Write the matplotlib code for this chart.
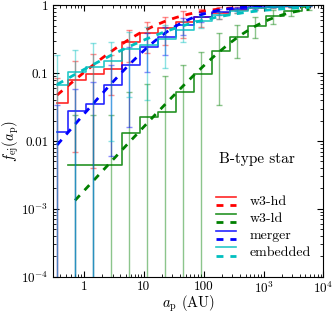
import numpy as np
import matplotlib
matplotlib.use("Agg")
import matplotlib.pyplot as plt
from matplotlib.legend_handler import HandlerBase
from matplotlib.lines import Line2D
from matplotlib.ticker import FuncFormatter

plt.rcParams['font.family'] = ['cmr10', 'DejaVu Serif']
plt.rcParams['mathtext.fontset'] = 'cm'
plt.rcParams['axes.formatter.use_mathtext'] = True

# semi-major axis bin centres (AU)
a_p = [0.354, 0.707, 1.414, 2.83, 5.66, 11.3, 22.6, 45.3, 90.5, 181, 362, 724, 1448, 2896, 5793]

hd_val = [0.036, 0.079, 0.098, 0.115, 0.29, 0.387, 0.468, 0.574, 0.68, 0.78, 0.86, 0.92, 0.96, 0.98, 0.99]
hd_err = [0.05, 0.072, 0.094, 0.068, 0.145, 0.19, 0.21, 0.24, 0.2, 0.15, 0.1, 0.07, 0.05, 0.03, 0.02]

ld_val = [np.nan, 0.0044, 0.0044, 0.0044, 0.0133, 0.0223, 0.0265, 0.053, 0.097, 0.214, 0.337, 0.50, 0.695, 0.824, 0.934]
ld_err = [0, 0.0196, 0.0196, 0.0196, 0.039, 0.048, 0.065, 0.079, 0.106, 0.18, 0.17, 0.166, 0.16, 0.12, 0.07]

mg_val = [0.0137, 0.0277, 0.0347, 0.068, 0.130, 0.245, 0.337, 0.51, 0.68, 0.80, 0.88, 0.93, 0.96, 0.98, 1.0]
mg_err = [0.02, 0.03, 0.04, 0.062, 0.114, 0.14, 0.15, 0.15, 0.12, 0.09, 0.06, 0.04, 0.03, 0.02, 0.01]

em_val = [0.067, 0.103, 0.123, 0.15, 0.224, 0.26, 0.32, 0.44, 0.58, 0.72, 0.83, 0.90, 0.95, 0.98, 0.99]
em_err = [0.118, 0.116, 0.152, 0.14, 0.18, 0.22, 0.2, 0.15, 0.12, 0.09, 0.06, 0.04, 0.03, 0.02, 0.01]

# fit parameters f = 1 / (1 + (a0/a)^beta)
fit_a0 = {'hd': 15.0, 'ld': 750.0, 'mg': 35.0, 'em': 45.0}
fit_beta = {'hd': 0.8, 'ld': 0.95, 'mg': 1.03, 'em': 0.54}
fit_start = {'hd': 0.354, 'ld': 0.707, 'mg': 0.354, 'em': 0.354}

labels = ['w3-hd', 'w3-ld', 'merger', 'embedded']
keys = ['hd', 'ld', 'mg', 'em']
colors = ['r', 'g', 'b', 'c']
vals = [hd_val, ld_val, mg_val, em_val]
errs = [hd_err, ld_err, mg_err, em_err]

fig = plt.figure(figsize=(3.32, 3.13), dpi=100)
ax = fig.add_axes([0.159, 0.116, 0.815, 0.867])

x = np.array(a_p)
for key, col, v, e in zip(keys, colors, vals, errs):
    v = np.array(v, dtype=float)
    e = np.array(e, dtype=float)
    ax.errorbar(x, v, yerr=e, fmt='none', ecolor=col, alpha=0.45, capsize=2.5, elinewidth=1, capthick=1)
    ax.plot(x, v, drawstyle='steps-mid', color=col, lw=1.2, alpha=0.85)
    xf = np.logspace(np.log10(fit_start[key]), np.log10(5793), 200)
    yf = 1.0 / (1.0 + (fit_a0[key] / xf) ** fit_beta[key])
    ax.plot(xf, yf, color=col, lw=2, ls=(0, (2.5, 2.5)))

ax.set_xscale('log')
ax.set_yscale('log')
ax.set_xlim(0.3, 1e4)
ax.set_ylim(1e-4, 1)


def fmt(val, pos):
    e = int(round(np.log10(val)))
    if -2 <= e <= 2:
        return '%g' % (10.0 ** e)
    return r'$10^{%d}$' % e


ax.xaxis.set_major_formatter(FuncFormatter(fmt))
ax.yaxis.set_major_formatter(FuncFormatter(fmt))
ax.tick_params(which='both', direction='in', top=True, right=True, labelsize=9.5)
ax.tick_params(which='major', length=4, pad=3)
ax.tick_params(which='minor', length=2)
ax.set_xlabel(r'$a_{\rm p}$ (AU)', fontsize=10.5, labelpad=-2)
ax.set_ylabel(r'$f_{\rm ej}(a_{\rm p})$', fontsize=10.5, labelpad=0)


class DoubleLine(HandlerBase):
    def __init__(self, color):
        super().__init__()
        self.color = color

    def create_artists(self, legend, orig_handle, xdescent, ydescent, width, height, fontsize, trans):
        l1 = Line2D([-xdescent, width - xdescent], [height * 0.85, height * 0.85], color=self.color, lw=1.2, alpha=0.85, transform=trans)
        l2 = Line2D([-xdescent, width - xdescent], [height * 0.0, height * 0.0], color=self.color, lw=2, ls=(0, (2.5, 2.5)), transform=trans)
        return [l1, l2]


handles = [Line2D([], [], color=c) for c in colors]
hmap = {h: DoubleLine(c) for h, c in zip(handles, colors)}
ax.legend(handles, labels, handler_map=hmap, loc='upper left', bbox_to_anchor=(0.603, 0.30),
          frameon=False, fontsize=10, handlelength=1.45, handleheight=0.7,
          labelspacing=0.3, borderaxespad=0.0, borderpad=0.0, handletextpad=1.0)
ax.text(0.755, 0.435, 'B-type star', transform=ax.transAxes, fontsize=11, ha='center', va='center')

fig.savefig('out.png', dpi=100)
